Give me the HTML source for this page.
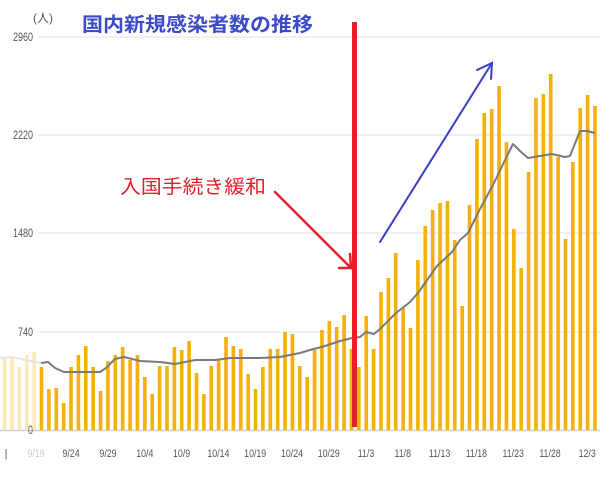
<!DOCTYPE html>
<html><head><meta charset="utf-8"><style>
html,body{margin:0;padding:0;background:#fff;}
svg{display:block;}
.yl{font-family:"Liberation Sans",sans-serif;font-size:12px;fill:#555;}
.xl{font-family:"Liberation Sans",sans-serif;font-size:11px;fill:#555;}
</style></head><body>
<svg width="614" height="488" viewBox="0 0 614 488" xmlns="http://www.w3.org/2000/svg">
<rect width="614" height="488" fill="#fff"/>
<g stroke="#e2e2e2" stroke-width="1">
<line x1="38" y1="37" x2="600" y2="37"/>
<line x1="38" y1="135" x2="600" y2="135"/>
<line x1="38" y1="233" x2="600" y2="233"/>
<line x1="38" y1="332" x2="600" y2="332"/>
</g>
<line x1="0" y1="430.5" x2="600" y2="430.5" stroke="#cfcfcf" stroke-width="1.5"/>
<g class="yl" text-anchor="end" transform="scale(0.75 1)">
<text x="44" y="41">2960</text>
<text x="44" y="139">2220</text>
<text x="44" y="237">1480</text>
<text x="44" y="336">740</text>
<text x="44" y="434">0</text>
</g>
<text x="33" y="22" class="yl" style="font-family:'Liberation Sans','Noto Sans CJK JP',sans-serif">(人)</text>
<g fill="#fbe9b8" transform="translate(39.7 0) scale(7.38 1)">
<rect x="-5" y="358" width="0.49" height="72"/>
<rect x="-4" y="358" width="0.49" height="72"/>
<rect x="-3" y="367" width="0.49" height="63"/>
<rect x="-2" y="355" width="0.49" height="75"/>
<rect x="-1" y="352" width="0.49" height="78"/>
</g>
<g fill="#f5b10a" transform="translate(39.7 0) scale(7.38 1)">
<rect x="0" y="367" width="0.49" height="63"/>
<rect x="1" y="389" width="0.49" height="41"/>
<rect x="2" y="388" width="0.49" height="42"/>
<rect x="3" y="403" width="0.49" height="27"/>
<rect x="4" y="367" width="0.49" height="63"/>
<rect x="5" y="355" width="0.49" height="75"/>
<rect x="6" y="346" width="0.49" height="84"/>
<rect x="7" y="367" width="0.49" height="63"/>
<rect x="8" y="391" width="0.49" height="39"/>
<rect x="9" y="361" width="0.49" height="69"/>
<rect x="10" y="355" width="0.49" height="75"/>
<rect x="11" y="347" width="0.49" height="83"/>
<rect x="12" y="360" width="0.49" height="70"/>
<rect x="13" y="355" width="0.49" height="75"/>
<rect x="14" y="377" width="0.49" height="53"/>
<rect x="15" y="394" width="0.49" height="36"/>
<rect x="16" y="366" width="0.49" height="64"/>
<rect x="17" y="366" width="0.49" height="64"/>
<rect x="18" y="347" width="0.49" height="83"/>
<rect x="19" y="350" width="0.49" height="80"/>
<rect x="20" y="341" width="0.49" height="89"/>
<rect x="21" y="373" width="0.49" height="57"/>
<rect x="22" y="394" width="0.49" height="36"/>
<rect x="23" y="366" width="0.49" height="64"/>
<rect x="24" y="359" width="0.49" height="71"/>
<rect x="25" y="337" width="0.49" height="93"/>
<rect x="26" y="346" width="0.49" height="84"/>
<rect x="27" y="349" width="0.49" height="81"/>
<rect x="28" y="374" width="0.49" height="56"/>
<rect x="29" y="389" width="0.49" height="41"/>
<rect x="30" y="367" width="0.49" height="63"/>
<rect x="31" y="349" width="0.49" height="81"/>
<rect x="32" y="349" width="0.49" height="81"/>
<rect x="33" y="332" width="0.49" height="98"/>
<rect x="34" y="334" width="0.49" height="96"/>
<rect x="35" y="366" width="0.49" height="64"/>
<rect x="36" y="377" width="0.49" height="53"/>
<rect x="37" y="350" width="0.49" height="80"/>
<rect x="38" y="330" width="0.49" height="100"/>
<rect x="39" y="321" width="0.49" height="109"/>
<rect x="40" y="327" width="0.49" height="103"/>
<rect x="41" y="315" width="0.49" height="115"/>
<rect x="42" y="349" width="0.49" height="81"/>
<rect x="43" y="367" width="0.49" height="63"/>
<rect x="44" y="316" width="0.49" height="114"/>
<rect x="45" y="349" width="0.49" height="81"/>
<rect x="46" y="292" width="0.49" height="138"/>
<rect x="47" y="278" width="0.49" height="152"/>
<rect x="48" y="253" width="0.49" height="177"/>
<rect x="49" y="308" width="0.49" height="122"/>
<rect x="50" y="328" width="0.49" height="102"/>
<rect x="51" y="260" width="0.49" height="170"/>
<rect x="52" y="226" width="0.49" height="204"/>
<rect x="53" y="210" width="0.49" height="220"/>
<rect x="54" y="203" width="0.49" height="227"/>
<rect x="55" y="201" width="0.49" height="229"/>
<rect x="56" y="240" width="0.49" height="190"/>
<rect x="57" y="306" width="0.49" height="124"/>
<rect x="58" y="205" width="0.49" height="225"/>
<rect x="59" y="139" width="0.49" height="291"/>
<rect x="60" y="113" width="0.49" height="317"/>
<rect x="61" y="109" width="0.49" height="321"/>
<rect x="62" y="86" width="0.49" height="344"/>
<rect x="63" y="142" width="0.49" height="288"/>
<rect x="64" y="229" width="0.49" height="201"/>
<rect x="65" y="268" width="0.49" height="162"/>
<rect x="66" y="172" width="0.49" height="258"/>
<rect x="67" y="98" width="0.49" height="332"/>
<rect x="68" y="94" width="0.49" height="336"/>
<rect x="69" y="74" width="0.49" height="356"/>
<rect x="70" y="157" width="0.49" height="273"/>
<rect x="71" y="239" width="0.49" height="191"/>
<rect x="72" y="162" width="0.49" height="268"/>
<rect x="73" y="108" width="0.49" height="322"/>
<rect x="74" y="95" width="0.49" height="335"/>
<rect x="75" y="106" width="0.49" height="324"/>
</g>
<polyline fill="none" stroke="#e6e6e6" stroke-width="2" points="0,358 12,357 25,360 41,363"/>
<polyline fill="none" stroke="#7a7a7a" stroke-width="2" stroke-linejoin="round" points="41,363 48,362 55,368 64,372 100,372 106,368 115,359 124,357 140,361 160,362 175,364 185,362 195,360 215,360 230,358 245,358 260,358 280,357 300,353 310,350 325,346 340,341 352,338 360,337 366,332 374,334 380,329 396,313 410,302 418,293 425,283 437,266 452,252 460,240 468,233 480,209 493,185 506,158 513,144 520,151 528,158 540,156 552,154 565,157 570,156 580,131 587,131 595,133"/>
<text x="6" y="457" class="xl" fill="#ddd" text-anchor="middle">|</text>
<g class="xl" text-anchor="middle" transform="scale(0.8 1)">
<text x="45" y="457" fill="#ccc">9/19</text>
<text x="88.8" y="457">9/24</text>
<text x="135" y="457">9/29</text>
<text x="181" y="457">10/4</text>
<text x="227" y="457">10/9</text>
<text x="273" y="457">10/14</text>
<text x="319" y="457">10/19</text>
<text x="365" y="457">10/24</text>
<text x="411" y="457">10/29</text>
<text x="457.5" y="457">11/3</text>
<text x="503.5" y="457">11/8</text>
<text x="549.5" y="457">11/13</text>
<text x="595.5" y="457">11/18</text>
<text x="641.5" y="457">11/23</text>
<text x="687.5" y="457">11/28</text>
<text x="734" y="457">12/3</text>
</g>
<rect x="352" y="22" width="5" height="405" fill="#e0202a"/>
<text x="82" y="31" font-size="19.5" font-weight="bold" fill="#3d4bc7" style="font-family:'Liberation Sans','Noto Sans CJK JP',sans-serif" textLength="231" lengthAdjust="spacingAndGlyphs">国内新規感染者数の推移</text>
<text x="120" y="193" font-size="19" fill="#e0202a" style="font-family:'Liberation Sans','Noto Sans CJK JP',sans-serif" textLength="146" lengthAdjust="spacingAndGlyphs">入国手続き緩和</text>
<g stroke="#e0202a" stroke-width="2.5" fill="none" stroke-linecap="round">
<line x1="275" y1="192" x2="350" y2="267"/>
<polyline points="339,268 351,268 350,254"/>
</g>
<g stroke="#3a3fc0" stroke-width="2" fill="none" stroke-linecap="round">
<line x1="380" y1="242" x2="492" y2="63"/>
<polyline points="477,70 492,63 491,79"/>
</g>
</svg>
</body></html>
